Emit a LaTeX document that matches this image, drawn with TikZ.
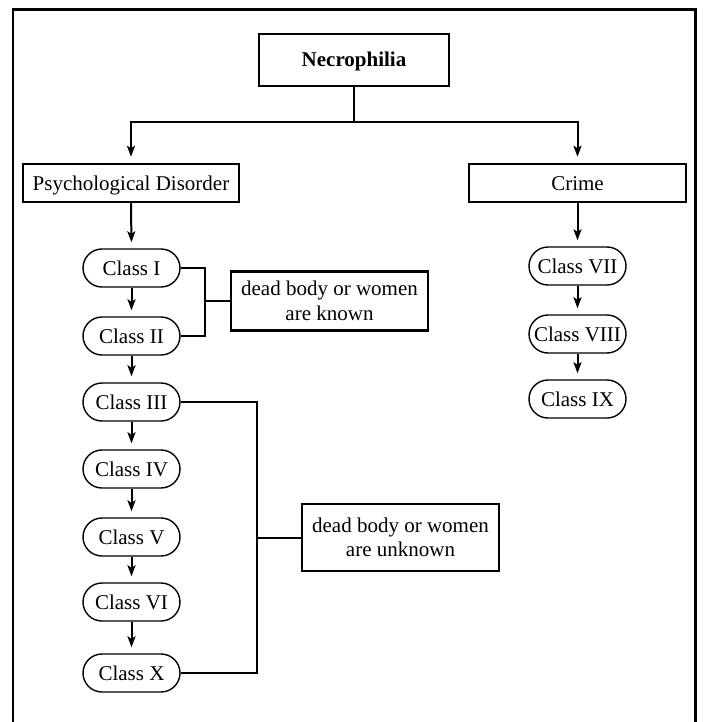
\documentclass[tikz,border=0pt]{standalone}
\usepackage{fontspec}
\setmainfont{Liberation Serif}
\usetikzlibrary{arrows.meta}
\begin{document}
\begin{tikzpicture}[x=1pt,y=-1pt,
  txt/.style={font=\fontsize{21}{24.5}\selectfont},
  box/.style={draw,line width=2.4pt,inner sep=0pt,txt,align=center,text height=14pt,text depth=0pt},
  notebox/.style={draw,line width=2.2pt,inner sep=0pt,txt,align=center,minimum width=197pt},
  pill/.style={draw,line width=1.4pt,rounded corners=19pt,minimum width=97pt,minimum height=38pt,inner sep=0pt,txt,text height=14pt,text depth=0pt},
  conn/.style={line width=2pt},
  arr/.style={conn,-{Stealth[length=11pt,width=8pt,inset=2.5pt]},shorten >=6pt}]
\useasboundingbox (0,0) rectangle (702,722);
\draw[line width=2.2pt] (13,9.5) rectangle (695.5,740);

\node[box,font=\bfseries\fontsize{21}{24.5}\selectfont,minimum width=190pt,minimum height=52pt] (nec) at (354,60) {Necrophilia};
\node[box,minimum width=216pt,minimum height=38pt] (psy) at (131,183) {Psychological Disorder};
\node[box,minimum width=217pt,minimum height=38pt] (cri) at (577.5,183) {Crime};

\node[pill] (c1) at (131.5,268) {Class I};
\node[pill] (c2) at (131.5,336) {Class II};
\node[pill] (c3) at (131.5,402) {Class III};
\node[pill] (c4) at (131.5,469) {Class IV};
\node[pill] (c5) at (131.5,537) {Class V};
\node[pill] (c6) at (131.5,602) {Class VI};
\node[pill] (c10) at (131.5,673) {Class X};

\node[pill] (c7) at (577.5,266) {Class VII};
\node[pill] (c8) at (577.5,334) {Class VIII};
\node[pill] (c9) at (577.5,399) {Class IX};

\node[notebox,minimum height=59pt] (k1) at (329.5,301) {dead body or women\\are known};
\node[notebox,minimum height=67pt] (k2) at (400.5,537.5) {dead body or women\\are unknown};

\coordinate (hub) at (354,122);
\draw[conn] (nec.south) -- (hub);
\draw[arr] (hub) -| (psy.north);
\draw[arr] (hub) -| (cri.north);

\draw[arr] (psy.south) -- (c1.north);
\draw[arr] (c1.south) -- (c2.north);
\draw[arr] (c2.south) -- (c3.north);
\draw[arr] (c3.south) -- (c4.north);
\draw[arr] (c4.south) -- (c5.north);
\draw[arr] (c5.south) -- (c6.north);
\draw[arr] (c6.south) -- (c10.north);

\draw[arr] (cri.south) -- (c7.north);
\draw[arr] (c7.south) -- (c8.north);
\draw[arr] (c8.south) -- (c9.north);

\coordinate (j1) at (205,301);
\draw[conn] (c1.east) -| (j1) |- (c2.east);
\draw[conn] (j1) -- (j1 -| k1.west);

\coordinate (j2) at (257,537.5);
\draw[conn] (c3.east) -| (j2) |- (c10.east);
\draw[conn] (j2) -- (j2 -| k2.west);
\end{tikzpicture}
\end{document}
